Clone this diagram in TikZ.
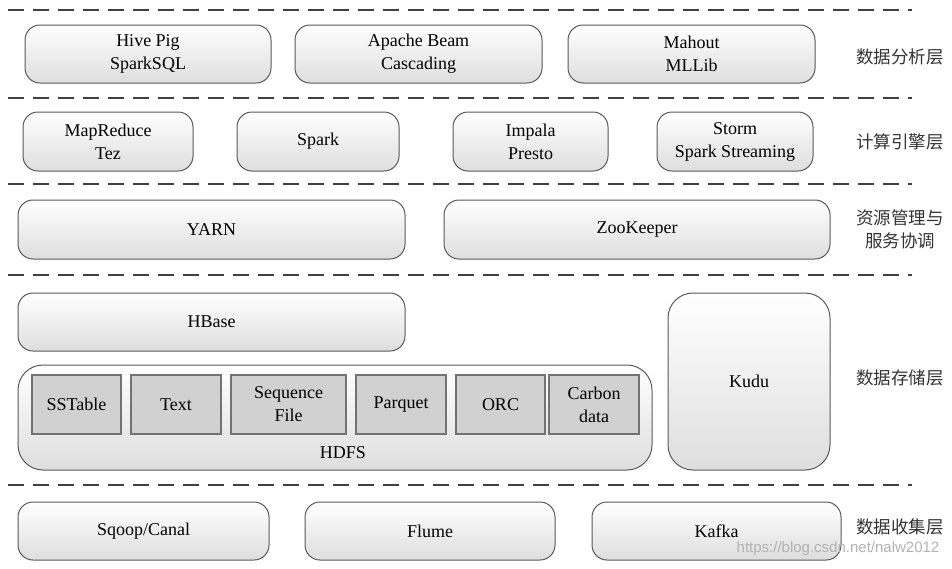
\documentclass[tikz,border=0pt]{standalone}
\usepackage{fontspec}
\setmainfont{Liberation Serif}
\newfontfamily\cjk{Noto Sans CJK SC}
\newfontfamily\wmfont{Liberation Sans}

\begin{document}
\begin{tikzpicture}[x=1pt,y=-1pt,
    box/.style={draw=black!65,line width=1pt,rounded corners=15pt,top color=white,bottom color=black!13,
                align=center,font=\fontsize{18}{23}\selectfont,inner sep=0pt},
    fmt/.style={draw=black!55,line width=1.6pt,fill=black!18,align=center,
                font=\fontsize{18}{23}\selectfont,inner sep=0pt},
    layer/.style={align=center,font=\cjk\fontsize{17.5}{23}\selectfont,text=black!80},
    sep/.style={draw=black!75,line width=2pt,dash pattern=on 16pt off 9pt}]
    \useasboundingbox (0,0) rectangle (952,568);

    \foreach \y in {10,98,184,275,485}
        \draw[sep] (8,\y) -- (912,\y);

    % data analysis
    \node[box,minimum width=246pt,minimum height=58pt] (hive)   at (148,54)   {Hive Pig\\SparkSQL};
    \node[box,minimum width=247pt,minimum height=58pt] (beam)   at (418.5,54) {Apache Beam\\Cascading};
    \node[box,minimum width=247pt,minimum height=58pt] (mahout) at (691.5,54) {Mahout\\MLLib};

    % compute engines
    \node[box,minimum width=170pt,minimum height=59pt] (mapred) at (108,141.5)   {MapReduce\\Tez};
    \node[box,minimum width=162pt,minimum height=59pt] (spark)  at (318,141.5)   {Spark};
    \node[box,minimum width=155pt,minimum height=59pt] (impala) at (530.5,141.5) {Impala\\Presto};
    \node[box,minimum width=156pt,minimum height=59pt] (storm)  at (735,141.5)   {Storm\\Spark Streaming};

    % resources
    \node[box,minimum width=387pt,minimum height=59pt] (yarn) at (211.5,229.5) {YARN};
    \node[box,minimum width=386pt,minimum height=59pt] (zk)   at (637,229.5)   {ZooKeeper};

    % storage
    \node[box,minimum width=387pt,minimum height=58pt] (hbase) at (211.5,322) {HBase};
    \node[box,rounded corners=25pt,minimum width=634pt,minimum height=105pt] (hdfs) at (335,417.5) {};
    \node[font=\fontsize{18}{23}\selectfont] (hdfslbl) at (343,453) {HDFS};
    \node[fmt,minimum width=89pt,minimum height=59pt]  (sstable) at (76.5,404.5)  {SSTable};
    \node[fmt,minimum width=90pt,minimum height=59pt]  (text)    at (176,404.5)   {Text};
    \node[fmt,minimum width=115pt,minimum height=59pt] (seqfile) at (288.5,404.5) {Sequence\\File};
    \node[fmt,minimum width=90pt,minimum height=59pt]  (parquet) at (401,404.5)   {Parquet};
    \node[fmt,minimum width=89pt,minimum height=59pt]  (orc)     at (500.5,404.5) {ORC};
    \node[fmt,minimum width=90pt,minimum height=59pt]  (carbon)  at (594,404.5)   {Carbon\\data};
    \node[box,rounded corners=25pt,minimum width=162pt,minimum height=177pt] (kudu) at (749,381.5) {Kudu};

    % collection
    \node[box,minimum width=251pt,minimum height=58pt] (sqoop) at (143.5,531) {Sqoop/Canal};
    \node[box,minimum width=250pt,minimum height=58pt] (flume) at (430,531)   {Flume};
    \node[box,minimum width=249pt,minimum height=58pt] (kafka) at (716.5,531) {Kafka};

    % layer names
    \node[layer] (lanalysis) at (900,57)    {数据分析层};
    \node[layer] (lcompute)  at (900,142)   {计算引擎层};
    \node[layer] (lresource) at (900,229.5) {资源管理与\\服务协调};
    \node[layer] (lstorage)  at (900,378)   {数据存储层};
    \node[layer] (lcollect)  at (900,527)   {数据收集层};

    \node[font=\wmfont\fontsize{15}{18}\selectfont,text=black!30] (wm) at (838,549) {https://blog.csdn.net/nalw2012};
\end{tikzpicture}
\end{document}
